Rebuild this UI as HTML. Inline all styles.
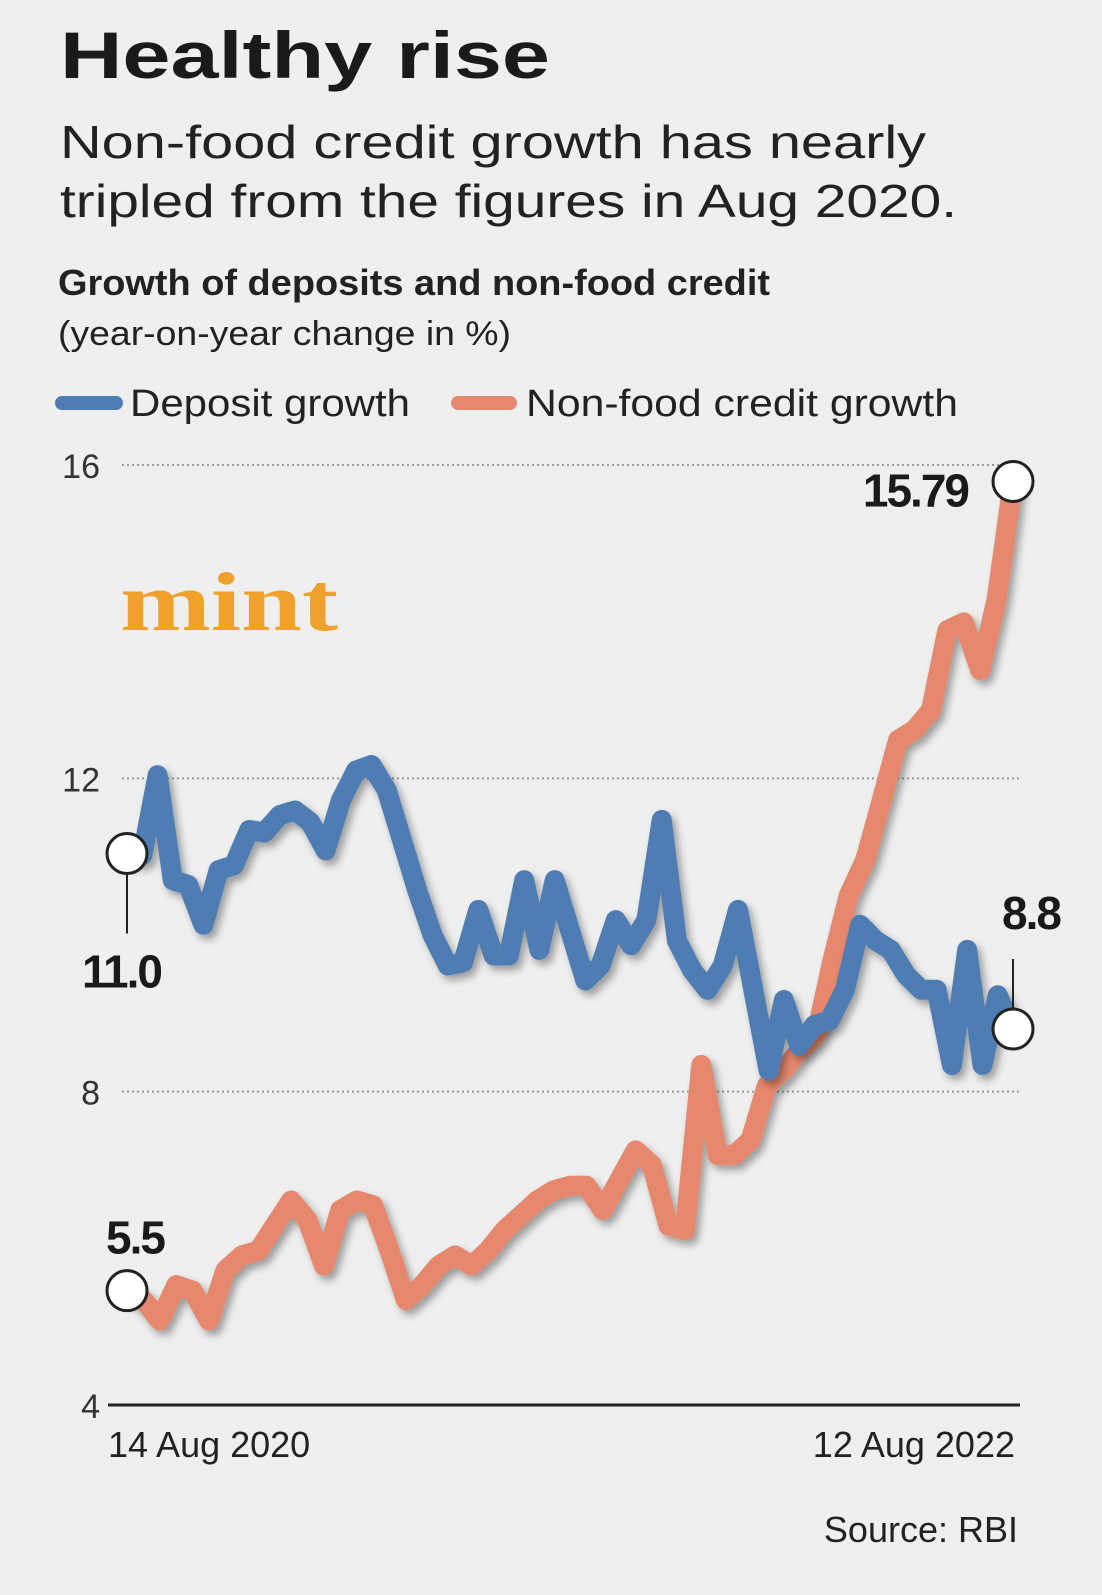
<!DOCTYPE html>
<html><head><meta charset="utf-8"><style>
html,body{margin:0;padding:0;background:#efefef;}
svg{display:block;font-family:"Liberation Sans",sans-serif;}
</style></head><body>
<svg id="chart" width="1102" height="1595" viewBox="0 0 1102 1595">
<defs><filter id="sh" x="-10%" y="-10%" width="120%" height="120%"><feDropShadow dx="4" dy="5" stdDeviation="4" flood-color="#000" flood-opacity="0.35"/></filter></defs>
<rect width="1102" height="1595" fill="#efefef"/>
<text x="60" y="78" font-size="66" font-weight="bold" fill="#1a1a1a" textLength="490" lengthAdjust="spacingAndGlyphs">Healthy rise</text>
<text x="60" y="158" font-size="46" fill="#222" textLength="866" lengthAdjust="spacingAndGlyphs">Non-food credit growth has nearly</text>
<text x="60" y="217" font-size="46" fill="#222" textLength="897" lengthAdjust="spacingAndGlyphs">tripled from the figures in Aug 2020.</text>
<text x="58" y="295" font-size="36" font-weight="bold" fill="#222" textLength="712" lengthAdjust="spacingAndGlyphs">Growth of deposits and non-food credit</text>
<text x="58" y="345" font-size="34" fill="#222" textLength="453" lengthAdjust="spacingAndGlyphs">(year-on-year change in %)</text>
<g>
<line x1="62" y1="403" x2="116" y2="403" stroke="#4e7db3" stroke-width="14" stroke-linecap="round"/>
<text x="130" y="416" font-size="38" fill="#222" textLength="280" lengthAdjust="spacingAndGlyphs">Deposit growth</text>
<line x1="458" y1="403" x2="510" y2="403" stroke="#e5886d" stroke-width="14" stroke-linecap="round"/>
<text x="526" y="416" font-size="38" fill="#222" textLength="432" lengthAdjust="spacingAndGlyphs">Non-food credit growth</text>
</g>
<text x="120" y="630" font-size="84" font-weight="bold" fill="#f0a12c" font-family="Liberation Serif,serif" textLength="218" lengthAdjust="spacingAndGlyphs">mint</text>
<g id="axes"></g>
<g id="series"></g>
<g id="annot"></g>
<text x="1018" y="1542" font-size="36" fill="#222" text-anchor="end">Source: RBI</text>
</svg>
<script>
const yTicks=[4,8,12,16];
const xLabels=["14 Aug 2020","12 Aug 2022"];
const deposit=[11.04,11.02,12.04,10.70,10.64,10.13,10.83,10.89,11.34,11.31,11.53,11.59,11.44,11.08,11.72,12.10,12.17,11.85,11.21,10.57,10.00,9.61,9.65,10.32,9.74,9.74,10.70,9.81,10.70,10.06,9.42,9.61,10.19,9.87,10.19,11.47,9.93,9.55,9.30,9.61,10.32,9.30,8.27,9.17,8.59,8.85,8.91,9.30,10.13,9.93,9.81,9.49,9.30,9.30,8.34,9.81,8.34,9.23,8.8];
const credit=[5.46,5.34,5.08,5.53,5.46,5.08,5.72,5.91,5.97,6.29,6.61,6.36,5.78,6.49,6.61,6.55,5.97,5.34,5.53,5.78,5.91,5.78,5.97,6.23,6.42,6.61,6.74,6.80,6.80,6.49,6.87,7.25,7.06,6.29,6.23,8.34,7.19,7.19,7.38,8.08,8.27,8.53,8.72,9.68,10.51,10.96,11.72,12.49,12.62,12.87,13.89,13.99,13.38,14.28,15.79];
const labels={depStart:"11.0",depEnd:"8.8",crStart:"5.5",crEnd:"15.79"};
const NS="http://www.w3.org/2000/svg";
const X0=127,X1=1013,Y4=1405,Y16=465;
const y=v=>Y4+(v-4)*(Y16-Y4)/12;
const x=(i,n)=>X0+i*(X1-X0)/(n-1);
function mk(tag,attrs,parent){const e=document.createElementNS(NS,tag);for(const k in attrs)e.setAttribute(k,attrs[k]);parent.appendChild(e);return e;}
const axes=document.getElementById('axes');
yTicks.forEach(t=>{
  if(t>4){const l=mk('line',{x1:122,x2:1020,y1:y(t),y2:y(t),stroke:'#999','stroke-width':2,'stroke-dasharray':'2 3'},axes);
  
  }
  const tx=mk('text',{x:100,y:y(t)+13,'font-size':34,fill:'#333','text-anchor':'end'},axes);tx.textContent=t;
  
  
});
const base=mk('line',{x1:108,x2:1020,y1:y(4),y2:y(4),stroke:'#222','stroke-width':3},axes);


const xl1=mk('text',{x:108,y:1457,'font-size':36,fill:'#222'},axes);xl1.textContent=xLabels[0];


const xl2=mk('text',{x:1015,y:1457,'font-size':36,fill:'#222','text-anchor':'end'},axes);xl2.textContent=xLabels[1];


const ser=document.getElementById('series');
function line(data,color,name){
  const d=data.map((v,i)=>(i?'L':'M')+x(i,data.length).toFixed(1)+','+y(v).toFixed(1)).join('');
  const p=mk('path',{d:d,fill:'none',stroke:color,'stroke-width':20,'stroke-linejoin':'round','stroke-linecap':'round',filter:'url(#sh)'},ser);
  
  
}
line(credit,'#e5886d','credit-line');
line(deposit,'#4e7db3','deposit-line');
const an=document.getElementById('annot');
function marker(cx,cy,name){const c=mk('circle',{cx:cx,cy:cy,r:20,fill:'#fff',stroke:'#222','stroke-width':3},an);
  
  }
function lbl(tx,lx,ly,anchor,name){const t=mk('text',{x:lx,y:ly,'font-size':46,'font-weight':'bold',fill:'#1a1a1a','text-anchor':anchor,'letter-spacing':-2},an);t.textContent=tx;
  
  }
const dS=y(deposit[0]),dE=y(deposit[deposit.length-1]),cS=y(credit[0]),cE=y(credit[credit.length-1]);
mk('line',{x1:127,x2:127,y1:dS,y2:dS+80,stroke:'#222','stroke-width':2},an);
mk('line',{x1:1013,x2:1013,y1:dE-70,y2:dE,stroke:'#222','stroke-width':2},an);
marker(X0,dS,'deposit-start-marker');marker(X1,dE,'deposit-end-marker');
marker(X0,cS,'credit-start-marker');marker(X1,cE,'credit-end-marker');
lbl(labels.depStart,82,dS+134,'start','deposit-start-label');
lbl(labels.depEnd,1060,dE-100,'end','deposit-end-label');
lbl(labels.crStart,106,cS-37,'start','credit-start-label');
lbl(labels.crEnd,968,cE+25,'end','credit-end-label');
</script>
</body></html>
